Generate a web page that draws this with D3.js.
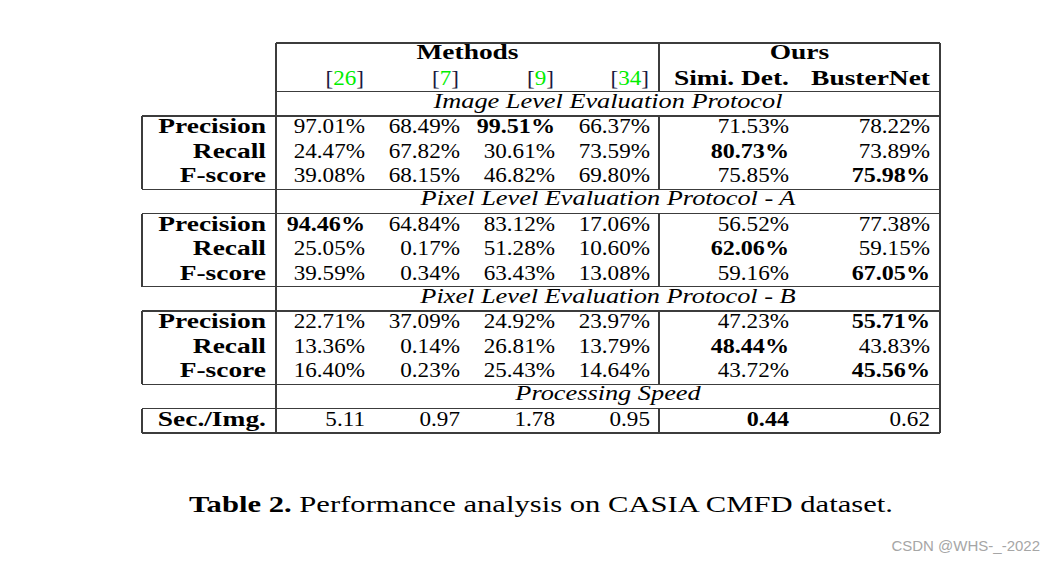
<!DOCTYPE html>
<html>
<head>
<meta charset="utf-8">
<script src="https://cdn.jsdelivr.net/npm/d3@7"></script>
<style>
  html, body { margin: 0; padding: 0; background: #fff; }
  svg { display: block; }
</style>
</head>
<body>
<svg id="chart" width="1054" height="562"></svg>
<script>
// ---------- data ----------
const methodRefs = ["26", "7", "9", "34"];
const oursNames = ["Simi. Det.", "BusterNet"];
const sectionTitles = [
  "Image Level Evaluation Protocol",
  "Pixel Level Evaluation Protocol - A",
  "Pixel Level Evaluation Protocol - B",
  "Processing Speed"
];
const metrics = ["Precision", "Recall", "F-score"];
const imageLevel = [
  [97.01, 68.49, 99.51, 66.37, 71.53, 78.22],
  [24.47, 67.82, 30.61, 73.59, 80.73, 73.89],
  [39.08, 68.15, 46.82, 69.80, 75.85, 75.98]
];
const pixelA = [
  [94.46, 64.84, 83.12, 17.06, 56.52, 77.38],
  [25.05, 0.17, 51.28, 10.60, 62.06, 59.15],
  [39.59, 0.34, 63.43, 13.08, 59.16, 67.05]
];
const pixelB = [
  [22.71, 37.09, 24.92, 23.97, 47.23, 55.71],
  [13.36, 0.14, 26.81, 13.79, 48.44, 43.83],
  [16.40, 0.23, 25.43, 14.64, 43.72, 45.56]
];
const speedMetrics = ["Sec./Img."];
const speed = [[5.11, 0.97, 1.78, 0.95, 0.44, 0.62]];
const caption = { bold: "Table 2.", rest: " Performance analysis on CASIA CMFD dataset." };
const watermark = "CSDN @WHS-_-2022";

// ---------- layout ----------
const svg = d3.select("#chart");
const FONT = "'Liberation Serif', serif";
const FS = 20.5;
const LINE = "#3c3c3c";

// horizontal stretch factors, calibrated so that Liberation Serif mimics
// the wider Computer Modern glyphs of the reference
function naturalWidth(text, attrs) {
  const t = svg.append("text").attr("font-family", FONT).attr("font-size", FS);
  Object.entries(attrs).forEach(([k, v]) => t.attr(k, v));
  t.text(text);
  const w = t.node().getComputedTextLength();
  t.remove();
  return w;
}
const K = {
  num: 71.3 / naturalWidth("97.01%", {}),
  numBold: 78.3 / naturalWidth("99.51%", { "font-weight": "bold" }),
  labBold: 107.7 / naturalWidth("Precision", { "font-weight": "bold" }),
  ital: 349 / naturalWidth(sectionTitles[0], { "font-style": "italic" })
};
function stretch(sel, k) {
  sel.each(function () {
    const w = this.getComputedTextLength();
    d3.select(this).attr("textLength", w * k).attr("lengthAdjust", "spacingAndGlyphs");
  });
  return sel;
}

const sections = [
  { title: sectionTitles[0], labels: metrics, rows: imageLevel, pct: true, best: "max" },
  { title: sectionTitles[1], labels: metrics, rows: pixelA, pct: true, best: "max" },
  { title: sectionTitles[2], labels: metrics, rows: pixelB, pct: true, best: "max" },
  { title: sectionTitles[3], labels: speedMetrics, rows: speed, pct: false, best: "min" }
];

let rowCount = 2;
sections.forEach(s => { s.titleRow = rowCount; rowCount += 1; s.firstRow = rowCount; rowCount += s.rows.length; });

const y = d3.scaleBand().domain(d3.range(rowCount)).range([43, 433]);
const xLeft = 142, xLab = 276, xSplit = 659, xRight = 940;
const xMethods = d3.scalePoint().domain(d3.range(methodRefs.length)).range([365, 650]);
const xOurs = d3.scalePoint().domain(d3.range(oursNames.length)).range([789, 930]);
const colX = i => i < methodRefs.length ? xMethods(i) : xOurs(i - methodRefs.length);
const baseOff = 17.2;

const gLines = svg.append("g").attr("stroke", LINE).attr("stroke-width", 1.4).attr("shape-rendering", "crispEdges");
const hline = (yy, x1, x2) => gLines.append("line").attr("x1", x1).attr("x2", x2).attr("y1", yy).attr("y2", yy);
const vline = (xx, y1, y2) => gLines.append("line").attr("x1", xx).attr("x2", xx).attr("y1", y1).attr("y2", y2);

hline(y(0), xLab, xRight);
hline(y(1) + y.bandwidth(), xLab, xRight);
vline(xSplit, y(0), y(1) + y.bandwidth());
sections.forEach(s => {
  const dTop = y(s.firstRow);
  const dBot = y(s.firstRow + s.rows.length - 1) + y.bandwidth();
  hline(dTop, xLeft, xRight);
  hline(dBot, xLeft, xRight);
  vline(xLeft, dTop, dBot);
  vline(xSplit, dTop, dBot);
});
vline(xLab, y(0), y(rowCount - 1) + y.bandwidth());
vline(xRight, y(0), y(rowCount - 1) + y.bandwidth());

const gText = svg.append("g").attr("font-family", FONT).attr("font-size", FS).attr("fill", "#000");

// header
stretch(gText.append("text").attr("x", (xLab + xSplit) / 2).attr("y", y(0) + baseOff - 1)
  .attr("text-anchor", "middle").attr("font-weight", "bold").text("Methods"), K.labBold);
stretch(gText.append("text").attr("x", (xSplit + xRight) / 2).attr("y", y(0) + baseOff - 1)
  .attr("text-anchor", "middle").attr("font-weight", "bold").text("Ours"), K.labBold);

methodRefs.forEach((r, i) => {
  const t = gText.append("text").attr("x", xMethods(i) - 1).attr("y", y(1) + baseOff)
    .attr("text-anchor", "end");
  t.append("tspan").attr("fill", "#1a1a40").text("[");
  t.append("tspan").attr("fill", "#00ee00").text(r);
  t.append("tspan").attr("fill", "#1a1a40").text("]");
  stretch(t, K.num);
});
oursNames.forEach((n, i) => {
  stretch(gText.append("text").attr("x", xOurs(i)).attr("y", y(1) + baseOff)
    .attr("text-anchor", "end").attr("font-weight", "bold").text(n), K.labBold);
});

const fmt = d3.format(".2f");
sections.forEach(s => {
  stretch(gText.append("text").attr("x", (xLab + xRight) / 2).attr("y", y(s.titleRow) + baseOff - 1)
    .attr("text-anchor", "middle").attr("font-style", "italic").text(s.title), K.ital);
  s.rows.forEach((vals, r) => {
    const yy = y(s.firstRow + r) + baseOff;
    stretch(gText.append("text").attr("x", 266).attr("y", yy).attr("text-anchor", "end")
      .attr("font-weight", "bold").text(s.labels[r]), K.labBold);
    const bi = s.best === "max" ? d3.maxIndex(vals) : d3.minIndex(vals);
    gText.selectAll(null).data(vals).join("text")
      .attr("x", (d, i) => colX(i)).attr("y", yy).attr("text-anchor", "end")
      .attr("font-weight", (d, i) => i === bi ? "bold" : "normal")
      .text(d => fmt(d) + (s.pct ? "%" : ""))
      .each(function (d, i) { stretch(d3.select(this), i === bi ? K.numBold : K.num); });
  });
});

// caption
const cap = svg.append("text").attr("x", 541).attr("y", 512).attr("text-anchor", "middle")
  .attr("font-family", FONT).attr("font-size", 23).attr("fill", "#000");
cap.append("tspan").attr("font-weight", "bold").text(caption.bold);
cap.append("tspan").text(caption.rest);
cap.attr("textLength", 704).attr("lengthAdjust", "spacingAndGlyphs");

// watermark
svg.append("text").attr("x", 1040).attr("y", 551).attr("text-anchor", "end")
  .attr("font-family", "'Liberation Sans', Arial, sans-serif").attr("font-size", 15)
  .attr("fill", "#a6a6a6").text(watermark);
</script>
</body>
</html>
